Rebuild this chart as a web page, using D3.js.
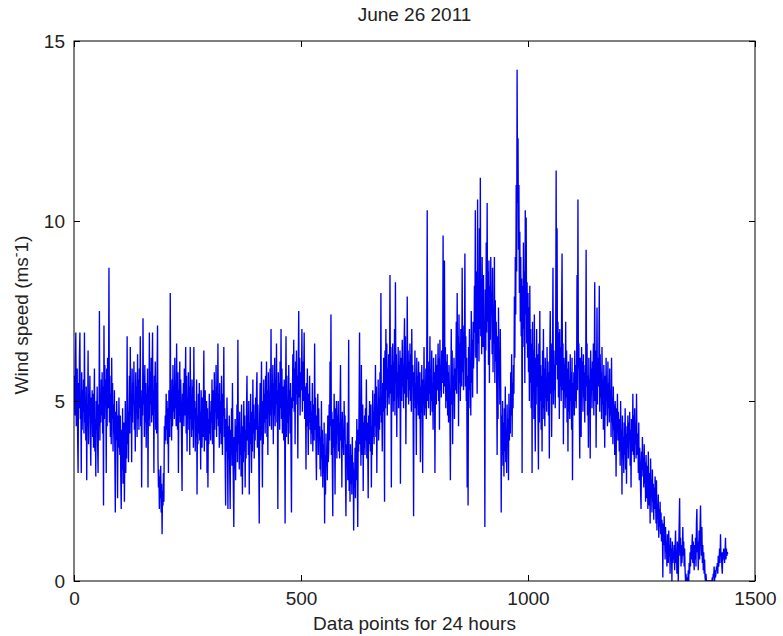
<!DOCTYPE html>
<html><head><meta charset="utf-8">
<script src="https://cdn.jsdelivr.net/npm/d3@7/dist/d3.min.js"></script>
<style>html,body{margin:0;padding:0;background:#fff;}svg{display:block;}</style>
</head><body>
<svg id="chart" width="783" height="636"></svg>
<script>
const titleText = "June 26 2011";
const xLabel = "Data points for 24 hours";
const xTicks = [0, 500, 1000, 1500];
const yTicks = [0, 5, 10, 15];
// wind speed, one value per data point (minute)
const windSpeed = [
5.7,4.6,6.1,6.9,4.3,5.2,5.9,4.0,3.0,5.5,4.8,6.2,6.9,4.5,5.1,3.0,5.8,4.2,5.3,4.7,
5.6,4.1,6.9,4.4,5.0,3.9,5.4,2.8,4.9,4.3,6.4,3.8,5.2,4.6,5.7,4.0,3.2,5.1,4.4,5.3,
4.0,5.2,3.7,4.8,5.9,3.6,4.5,2.9,5.0,4.2,5.4,3.8,3.0,4.9,4.3,7.5,3.9,5.1,4.4,5.6,
4.6,5.8,4.1,5.4,2.1,7.1,4.5,6.0,4.9,5.6,3.0,5.9,4.3,6.2,4.8,5.3,8.7,4.4,5.7,4.0,
5.2,3.8,6.2,4.5,5.5,3.6,4.9,4.1,5.3,3.4,1.9,4.7,3.9,5.0,4.2,2.3,4.6,3.7,5.1,4.0,
3.5,4.6,2.9,2.0,4.2,3.1,4.8,2.7,3.9,4.4,2.2,3.6,5.0,3.0,4.3,3.4,6.8,3.8,4.7,3.3,
4.8,5.7,4.1,6.5,4.6,5.2,3.3,5.9,4.4,5.5,4.9,6.1,4.2,5.0,3.6,5.8,4.7,5.4,4.0,6.3,
4.5,5.6,4.2,5.9,4.8,6.8,4.3,5.3,2.6,5.1,4.6,7.3,4.9,5.7,4.0,6.0,4.4,5.5,3.7,5.2,
4.7,5.9,2.6,5.4,4.5,6.9,4.3,5.8,4.9,6.2,4.4,5.6,6.9,4.6,5.3,3.0,5.7,4.8,6.1,4.2,
5.5,4.1,5.9,7.1,3.4,2.6,3.1,2.0,2.9,2.3,3.2,1.9,2.7,1.3,2.5,2.1,3.0,2.2,4.3,3.8,
4.6,3.9,5.2,4.2,5.0,3.8,4.8,3.0,5.3,4.4,4.0,8.0,4.5,5.1,3.9,5.6,4.3,6.0,4.7,5.4,
4.5,6.2,4.8,5.5,4.3,6.6,5.0,4.2,5.8,3.0,5.3,4.6,6.1,4.4,5.6,4.9,3.8,2.5,5.2,4.7,
5.5,4.3,5.9,4.6,5.2,6.5,4.1,5.7,3.6,5.0,4.7,5.8,4.2,5.4,3.5,6.5,4.5,5.1,4.0,5.6,
4.2,5.4,3.7,6.5,4.5,5.0,3.6,4.8,4.0,5.6,2.4,4.6,3.8,5.2,4.1,5.5,3.9,4.7,3.1,5.3,
4.4,3.7,5.1,4.0,4.9,6.4,3.6,4.6,5.3,3.9,4.3,5.0,3.0,4.8,2.6,4.5,3.8,5.2,4.1,4.7,
3.9,5.0,4.4,5.6,3.8,5.3,4.6,3.0,5.8,4.2,5.1,4.7,6.0,4.0,5.4,4.5,6.6,4.3,5.2,3.7,
5.5,4.1,5.0,3.8,5.7,4.4,3.5,5.2,4.6,6.5,4.0,4.8,3.3,2.1,4.5,3.6,5.1,3.9,2.0,4.3,
3.4,4.6,3.0,2.0,4.2,3.5,4.8,3.2,5.5,3.8,2.6,1.5,4.0,3.1,4.5,2.8,4.3,3.6,4.9,3.3,
6.7,3.8,4.4,3.1,4.7,3.5,4.1,2.9,4.9,3.7,2.4,4.3,3.3,5.0,3.6,4.6,2.6,4.2,3.4,4.8,
5.7,3.9,4.6,3.5,5.0,2.4,4.4,3.8,5.2,4.0,3.0,4.7,3.6,5.6,4.1,4.9,3.4,4.5,3.9,5.1,
4.2,5.3,5.8,3.7,4.9,4.1,3.4,1.6,4.6,5.5,3.9,4.8,6.1,4.3,2.6,5.0,3.8,5.6,4.4,5.2,
4.1,5.7,4.5,6.1,4.0,5.3,3.5,5.8,4.7,5.1,4.3,5.9,4.6,7.0,4.2,5.4,4.9,6.0,3.8,5.5,
4.6,6.2,4.3,5.6,4.9,6.6,4.4,5.3,2.0,5.8,4.7,5.5,4.2,6.1,4.8,7.0,4.5,5.9,4.1,5.4,
4.9,3.9,5.6,4.3,1.6,5.2,6.8,4.0,5.7,4.4,5.0,3.8,6.0,4.6,5.3,4.1,5.5,3.6,1.9,5.1,
4.8,6.3,5.0,6.7,4.7,5.9,3.8,6.1,5.2,6.4,4.9,5.7,3.4,6.0,7.5,5.1,6.2,4.6,5.8,5.3,
5.6,7.0,4.7,6.1,5.0,5.8,6.9,4.5,5.4,4.9,3.1,5.5,4.3,5.9,4.6,3.5,5.2,4.4,5.7,4.2,
5.0,3.8,4.7,4.1,5.5,3.6,4.4,4.9,3.9,6.6,4.2,5.1,3.7,2.8,4.6,4.0,5.2,3.5,4.8,3.9,
4.3,3.1,4.0,2.9,5.0,3.4,4.2,2.6,3.8,3.0,4.4,1.6,3.5,2.4,4.1,3.2,3.7,2.8,4.6,3.3,
3.6,4.9,3.9,6.1,4.3,7.4,3.5,4.7,3.2,1.8,4.5,3.7,5.2,4.0,2.4,4.8,3.8,5.0,3.4,4.6,
4.1,5.0,3.6,4.4,3.4,4.8,6.0,3.9,4.5,2.6,4.7,3.7,4.2,3.5,5.0,3.9,4.6,3.0,1.8,3.8,
3.2,4.4,2.8,3.6,6.7,2.5,3.4,2.2,3.8,2.7,3.5,2.4,4.0,2.9,3.3,1.4,3.1,2.6,3.7,2.3,
3.9,2.8,4.5,3.3,1.5,4.2,3.6,5.0,6.9,3.8,4.7,3.2,6.0,4.1,3.5,4.9,2.5,4.4,3.7,4.6,
3.5,4.8,3.9,5.6,3.4,4.4,3.7,2.3,4.6,3.8,5.0,4.1,3.6,4.9,2.6,4.3,3.5,5.3,4.0,4.7,
3.8,5.2,4.3,6.0,4.0,5.4,3.0,4.8,4.5,5.6,3.9,5.1,4.2,5.8,4.6,8.0,4.4,5.0,3.6,5.5,
4.7,6.2,5.0,2.2,6.4,4.8,7.0,5.3,6.6,4.6,5.9,5.1,6.3,4.9,5.7,8.5,5.2,6.5,2.6,6.0,
5.4,6.6,4.7,6.1,5.0,7.0,4.6,8.3,5.5,6.3,4.0,5.8,5.1,6.5,4.8,6.0,5.3,6.4,2.7,5.6,
6.2,5.0,6.7,5.4,6.0,4.8,6.5,7.3,5.2,6.8,3.8,5.9,5.1,7.9,5.6,6.4,4.9,6.1,5.3,6.6,
5.0,6.3,4.7,7.0,5.4,6.0,4.6,1.8,5.8,5.1,6.4,4.8,5.5,3.5,6.2,4.9,5.7,4.6,6.1,5.2,
4.5,5.8,3.3,5.4,4.7,6.0,4.4,3.0,5.6,4.9,6.5,4.6,5.2,4.8,5.9,4.5,6.2,10.3,5.0,5.7,
4.8,6.1,5.2,6.8,4.6,5.9,5.0,6.4,4.7,5.5,4.2,6.2,5.1,5.8,3.0,5.4,6.3,4.9,6.0,5.3,
5.6,6.6,5.0,6.2,4.2,6.7,5.3,6.0,5.1,6.4,5.5,5.8,9.6,5.2,6.3,8.9,5.4,6.5,4.8,6.1,
5.0,6.3,4.6,5.8,4.4,6.0,5.2,4.7,2.8,5.5,7.0,4.9,6.4,3.8,5.7,5.1,6.2,4.5,5.9,5.3,
5.6,7.2,5.2,8.0,5.9,6.8,4.3,7.4,5.5,6.6,5.0,7.0,6.1,5.4,8.7,5.8,7.1,5.3,6.9,6.2,
9.1,5.4,6.8,5.0,6.2,2.6,5.7,2.1,6.5,4.8,7.0,5.3,6.0,4.6,7.5,5.5,6.7,5.1,7.2,5.9,
6.4,8.2,6.9,10.3,6.2,8.6,7.1,5.2,10.6,6.6,8.0,6.1,9.8,7.0,11.2,6.8,8.4,6.3,9.0,7.3,
6.5,8.5,7.0,6.2,1.5,8.1,6.4,9.4,6.9,10.5,7.2,8.6,6.0,8.9,5.5,8.2,6.7,9.0,7.4,8.0,
6.3,8.7,5.8,7.5,6.6,9.0,5.5,7.8,6.1,7.2,5.6,3.5,6.8,4.5,7.6,5.9,6.4,4.9,7.0,5.2,
1.9,4.6,3.5,5.0,3.2,4.4,2.9,4.8,3.6,5.4,3.3,4.2,3.0,4.9,3.8,4.5,2.8,5.2,3.9,4.7,
4.1,5.8,4.6,6.3,4.0,5.5,4.8,6.0,5.2,7.9,6.2,9.0,7.4,11.0,8.6,14.2,10.5,12.3,9.2,11.0,
8.0,9.7,7.2,9.0,6.8,8.4,3.0,8.2,6.5,9.4,7.0,8.6,5.5,10.3,7.4,10.1,6.6,8.3,6.2,8.0,
5.8,7.6,5.0,8.2,5.5,7.0,4.8,6.6,3.0,7.2,5.3,6.4,4.5,7.4,5.1,3.6,6.2,4.9,7.0,5.4,
6.3,4.6,3.1,6.6,4.4,7.5,5.0,6.0,4.2,5.7,3.6,6.4,4.8,7.0,4.5,5.9,4.3,6.2,5.1,5.6,
4.7,6.5,5.0,6.1,4.6,5.8,3.4,6.3,7.5,5.2,6.6,4.0,5.5,6.2,8.7,4.9,6.4,5.3,6.0,4.8,
6.8,11.4,6.0,9.8,5.6,7.2,5.1,6.9,4.5,7.0,5.4,6.5,5.0,7.3,9.1,5.3,6.6,3.8,6.2,5.7,
6.0,4.8,7.2,5.1,6.4,4.4,5.9,3.6,6.1,4.7,5.6,4.5,6.3,5.0,5.8,4.2,6.2,2.8,5.5,4.9,
5.8,4.6,6.4,5.0,6.0,4.8,5.5,8.5,5.3,10.6,5.9,6.6,4.9,3.4,6.2,5.2,4.0,6.5,5.4,6.1,
4.7,6.3,5.1,5.8,4.4,6.0,5.0,9.2,5.4,6.6,4.6,5.7,3.7,6.2,4.9,5.6,3.4,6.4,5.2,5.9,
4.8,6.1,5.3,6.6,4.6,5.9,8.3,5.0,6.4,3.7,5.6,7.6,4.9,6.2,5.4,6.0,8.2,4.7,6.3,5.1,
5.8,4.5,6.5,4.9,5.6,4.2,6.0,5.1,3.7,5.7,4.6,6.2,5.0,5.4,4.3,6.1,4.8,5.5,4.4,5.9,
4.6,5.3,4.0,6.2,4.4,5.1,3.8,5.4,4.2,4.9,3.5,5.0,4.5,2.9,4.8,4.1,5.2,3.9,4.7,4.3,
3.6,4.5,3.2,5.0,3.8,4.2,2.4,4.6,3.4,4.0,3.0,4.4,3.5,4.8,3.1,4.1,2.7,4.3,3.7,4.6,
3.4,4.4,3.9,4.7,3.2,4.2,2.6,4.5,3.6,4.0,5.2,3.5,4.6,3.3,4.8,3.8,4.3,3.4,5.2,3.9,
3.5,4.1,3.0,4.4,2.8,3.7,3.2,2.5,2.0,3.6,2.9,4.0,3.1,3.4,2.6,3.8,2.7,3.3,2.2,3.5,
2.9,2.3,3.2,2.0,3.6,2.5,2.1,3.0,1.6,3.4,2.4,2.8,1.9,3.1,2.2,2.7,1.7,2.6,2.0,2.9,
2.3,1.6,2.8,1.4,2.1,1.8,2.4,1.2,2.0,1.5,2.2,1.3,1.9,1.1,1.7,1.4,0.1,1.6,1.0,1.8,
1.2,0.6,1.5,0.8,1.1,0.4,1.3,0.9,0.5,1.4,0.7,1.0,0.2,1.2,0.6,0.9,0.0,1.1,0.5,0.8,
0.6,1.0,0.3,0.9,1.4,0.5,0.8,0.2,1.1,0.6,0.0,0.9,1.6,2.3,0.7,1.2,0.4,1.0,0.5,0.8,
1.5,0.7,1.1,0.4,0.9,0.3,0.0,0.2,0.0,0.1,0.0,0.0,0.3,0.0,0.5,0.2,0.8,0.4,1.0,0.6,
0.9,1.3,0.5,1.1,0.7,0.3,1.0,0.6,1.2,0.4,1.6,2.0,0.8,1.1,0.3,0.9,1.4,0.6,1.5,2.1,
1.2,0.7,1.5,0.5,1.0,0.3,0.8,0.2,0.6,0.1,0.0,0.2,0.0,0.0,0.0,0.0,0.0,0.0,0.0,0.0,
0.0,0.0,0.0,0.0,0.0,0.1,0.0,0.2,0.1,0.4,0.0,0.3,0.1,0.2,0.4,0.3,0.5,0.2,0.7,0.4,
0.6,0.9,0.5,1.3,0.7,0.8,0.4,0.2,0.8,0.6,0.9,0.7,0.5,0.8,1.2,0.6,0.9,0.7,0.8,0.75
];

const W = 783, H = 636;
const m = {left: 74, right: 755, top: 41, bottom: 581};
const font = "Arial, 'Liberation Sans', Helvetica, sans-serif";
const fs = 19;
const svg = d3.select("#chart");

const x = d3.scaleLinear().domain([0, 1500]).range([m.left, m.right]);
const y = d3.scaleLinear().domain([0, 15]).range([m.bottom, m.top]);

svg.append("defs").append("clipPath").attr("id", "clip")
  .append("rect").attr("x", m.left).attr("y", m.top)
  .attr("width", m.right - m.left).attr("height", m.bottom - m.top);

const line = d3.line().x((d, i) => x(i + 1)).y(d => y(d));
svg.append("path").datum(windSpeed)
  .attr("clip-path", "url(#clip)")
  .attr("d", line).attr("fill", "none")
  .attr("stroke", "#0000f2").attr("stroke-width", 1.35);

const tickLen = 6;
const fmt = d3.format("d");
svg.append("g").attr("transform", `translate(0,${m.bottom})`)
  .call(d3.axisBottom(x).tickValues(xTicks).tickFormat(fmt).tickSizeInner(-tickLen).tickSizeOuter(0).tickPadding(tickLen + 5))
  .call(g => g.select(".domain").remove());
svg.append("g").attr("transform", `translate(0,${m.top})`)
  .call(d3.axisTop(x).tickValues(xTicks).tickSizeInner(-tickLen).tickSizeOuter(0).tickFormat(""))
  .call(g => g.select(".domain").remove());
svg.append("g").attr("transform", `translate(${m.left},0)`)
  .call(d3.axisLeft(y).tickValues(yTicks).tickFormat(fmt).tickSizeInner(-tickLen).tickSizeOuter(0).tickPadding(tickLen + 3))
  .call(g => g.select(".domain").remove());
svg.append("g").attr("transform", `translate(${m.right},0)`)
  .call(d3.axisRight(y).tickValues(yTicks).tickSizeInner(-tickLen).tickSizeOuter(0).tickFormat(""))
  .call(g => g.select(".domain").remove());

svg.selectAll(".tick line").attr("stroke", "#000");
svg.selectAll(".tick text").attr("font-family", font).attr("font-size", fs).attr("fill", "#222");

svg.append("rect").attr("x", m.left).attr("y", m.top)
  .attr("width", m.right - m.left).attr("height", m.bottom - m.top)
  .attr("fill", "none").attr("stroke", "#000").attr("stroke-width", 1);

svg.append("text").attr("x", (m.left + m.right) / 2).attr("y", 21)
  .attr("text-anchor", "middle").attr("font-family", font).attr("font-size", fs)
  .attr("fill", "#222").text(titleText);

svg.append("text").attr("x", (m.left + m.right) / 2).attr("y", 630)
  .attr("text-anchor", "middle").attr("font-family", font).attr("font-size", fs)
  .attr("fill", "#222").text(xLabel);

const yl = svg.append("text").attr("transform", `translate(28,${(m.top + m.bottom) / 2 + 4}) rotate(-90)`)
  .attr("text-anchor", "middle").attr("font-family", font).attr("font-size", fs).attr("fill", "#222");
yl.append("tspan").text("Wind speed (ms");
yl.append("tspan").attr("dy", -7).attr("font-size", 14).text("-");
yl.append("tspan").attr("dy", 7).text("1)");
</script>
</body></html>
